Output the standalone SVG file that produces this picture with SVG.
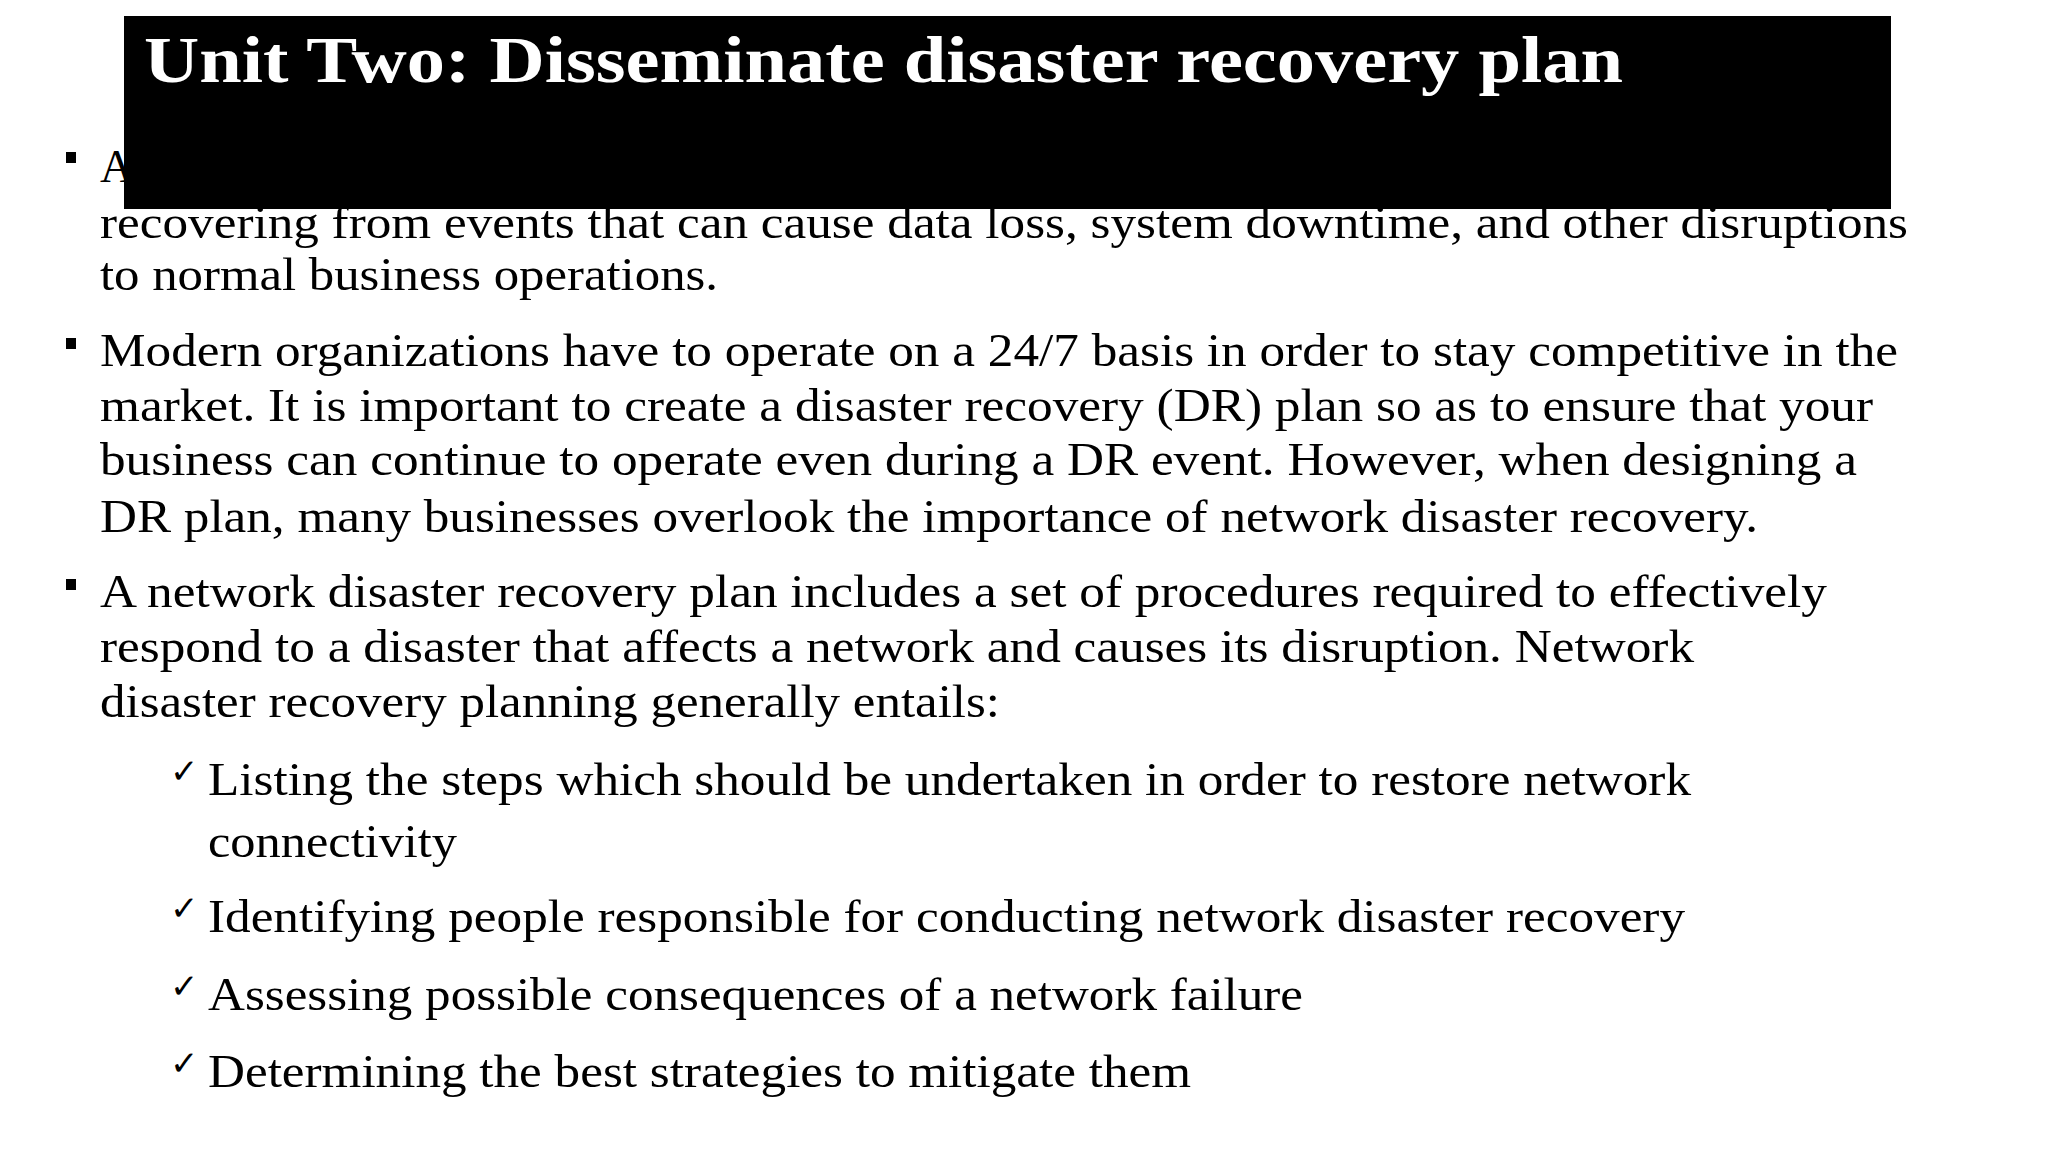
<svg xmlns="http://www.w3.org/2000/svg" width="2048" height="1152" viewBox="0 0 2048 1152">
<style>
.t{font-family:"Liberation Serif","Times New Roman",serif;font-size:46px;fill:#000}
.c{font-family:"DejaVu Sans",sans-serif;font-size:34px;fill:#000}
.h{font-family:"Liberation Serif","Times New Roman",serif;font-size:66px;font-weight:bold;fill:#fff}
</style>
<rect width="2048" height="1152" fill="#fff"/>
<g id="bullets">
<rect x="66" y="152" width="10" height="11"/>
<rect x="66" y="338" width="10" height="11"/>
<rect x="66" y="579" width="10" height="11"/>
</g>
<g id="body">
<text class="t" x="100" y="182">A</text>
<text class="t" x="100" y="238" textLength="1808" lengthAdjust="spacingAndGlyphs">recovering from events that can cause data loss, system downtime, and other disruptions</text>
<text class="t" x="100" y="290" textLength="618" lengthAdjust="spacingAndGlyphs">to normal business operations.</text>
<text class="t" x="100" y="366" textLength="1798" lengthAdjust="spacingAndGlyphs">Modern organizations have to operate on a 24/7 basis in order to stay competitive in the</text>
<text class="t" x="100" y="421" textLength="1773" lengthAdjust="spacingAndGlyphs">market. It is important to create a disaster recovery (DR) plan so as to ensure that your</text>
<text class="t" x="100" y="475" textLength="1757" lengthAdjust="spacingAndGlyphs">business can continue to operate even during a DR event. However, when designing a</text>
<text class="t" x="100" y="532" textLength="1658" lengthAdjust="spacingAndGlyphs">DR plan, many businesses overlook the importance of network disaster recovery.</text>
<text class="t" x="100" y="607" textLength="1727" lengthAdjust="spacingAndGlyphs">A network disaster recovery plan includes a set of procedures required to effectively</text>
<text class="t" x="100" y="662" textLength="1594" lengthAdjust="spacingAndGlyphs">respond to a disaster that affects a network and causes its disruption. Network</text>
<text class="t" x="100" y="717" textLength="900" lengthAdjust="spacingAndGlyphs">disaster recovery planning generally entails:</text>
<text class="c" x="170" y="783">✓</text>
<text class="t" x="208" y="795" textLength="1483" lengthAdjust="spacingAndGlyphs">Listing the steps which should be undertaken in order to restore network</text>
<text class="t" x="208" y="857" textLength="249" lengthAdjust="spacingAndGlyphs">connectivity</text>
<text class="c" x="170" y="920">✓</text>
<text class="t" x="208" y="932" textLength="1477" lengthAdjust="spacingAndGlyphs">Identifying people responsible for conducting network disaster recovery</text>
<text class="c" x="170" y="998">✓</text>
<text class="t" x="208" y="1010" textLength="1095" lengthAdjust="spacingAndGlyphs">Assessing possible consequences of a network failure</text>
<text class="c" x="170" y="1075">✓</text>
<text class="t" x="208" y="1087" textLength="983" lengthAdjust="spacingAndGlyphs">Determining the best strategies to mitigate them</text>
</g>
<g id="title">
<rect x="124" y="16" width="1767" height="193" fill="#000"/>
<text class="h" x="144" y="82" textLength="1479" lengthAdjust="spacingAndGlyphs">Unit Two: Disseminate disaster recovery plan</text>
</g>
</svg>
